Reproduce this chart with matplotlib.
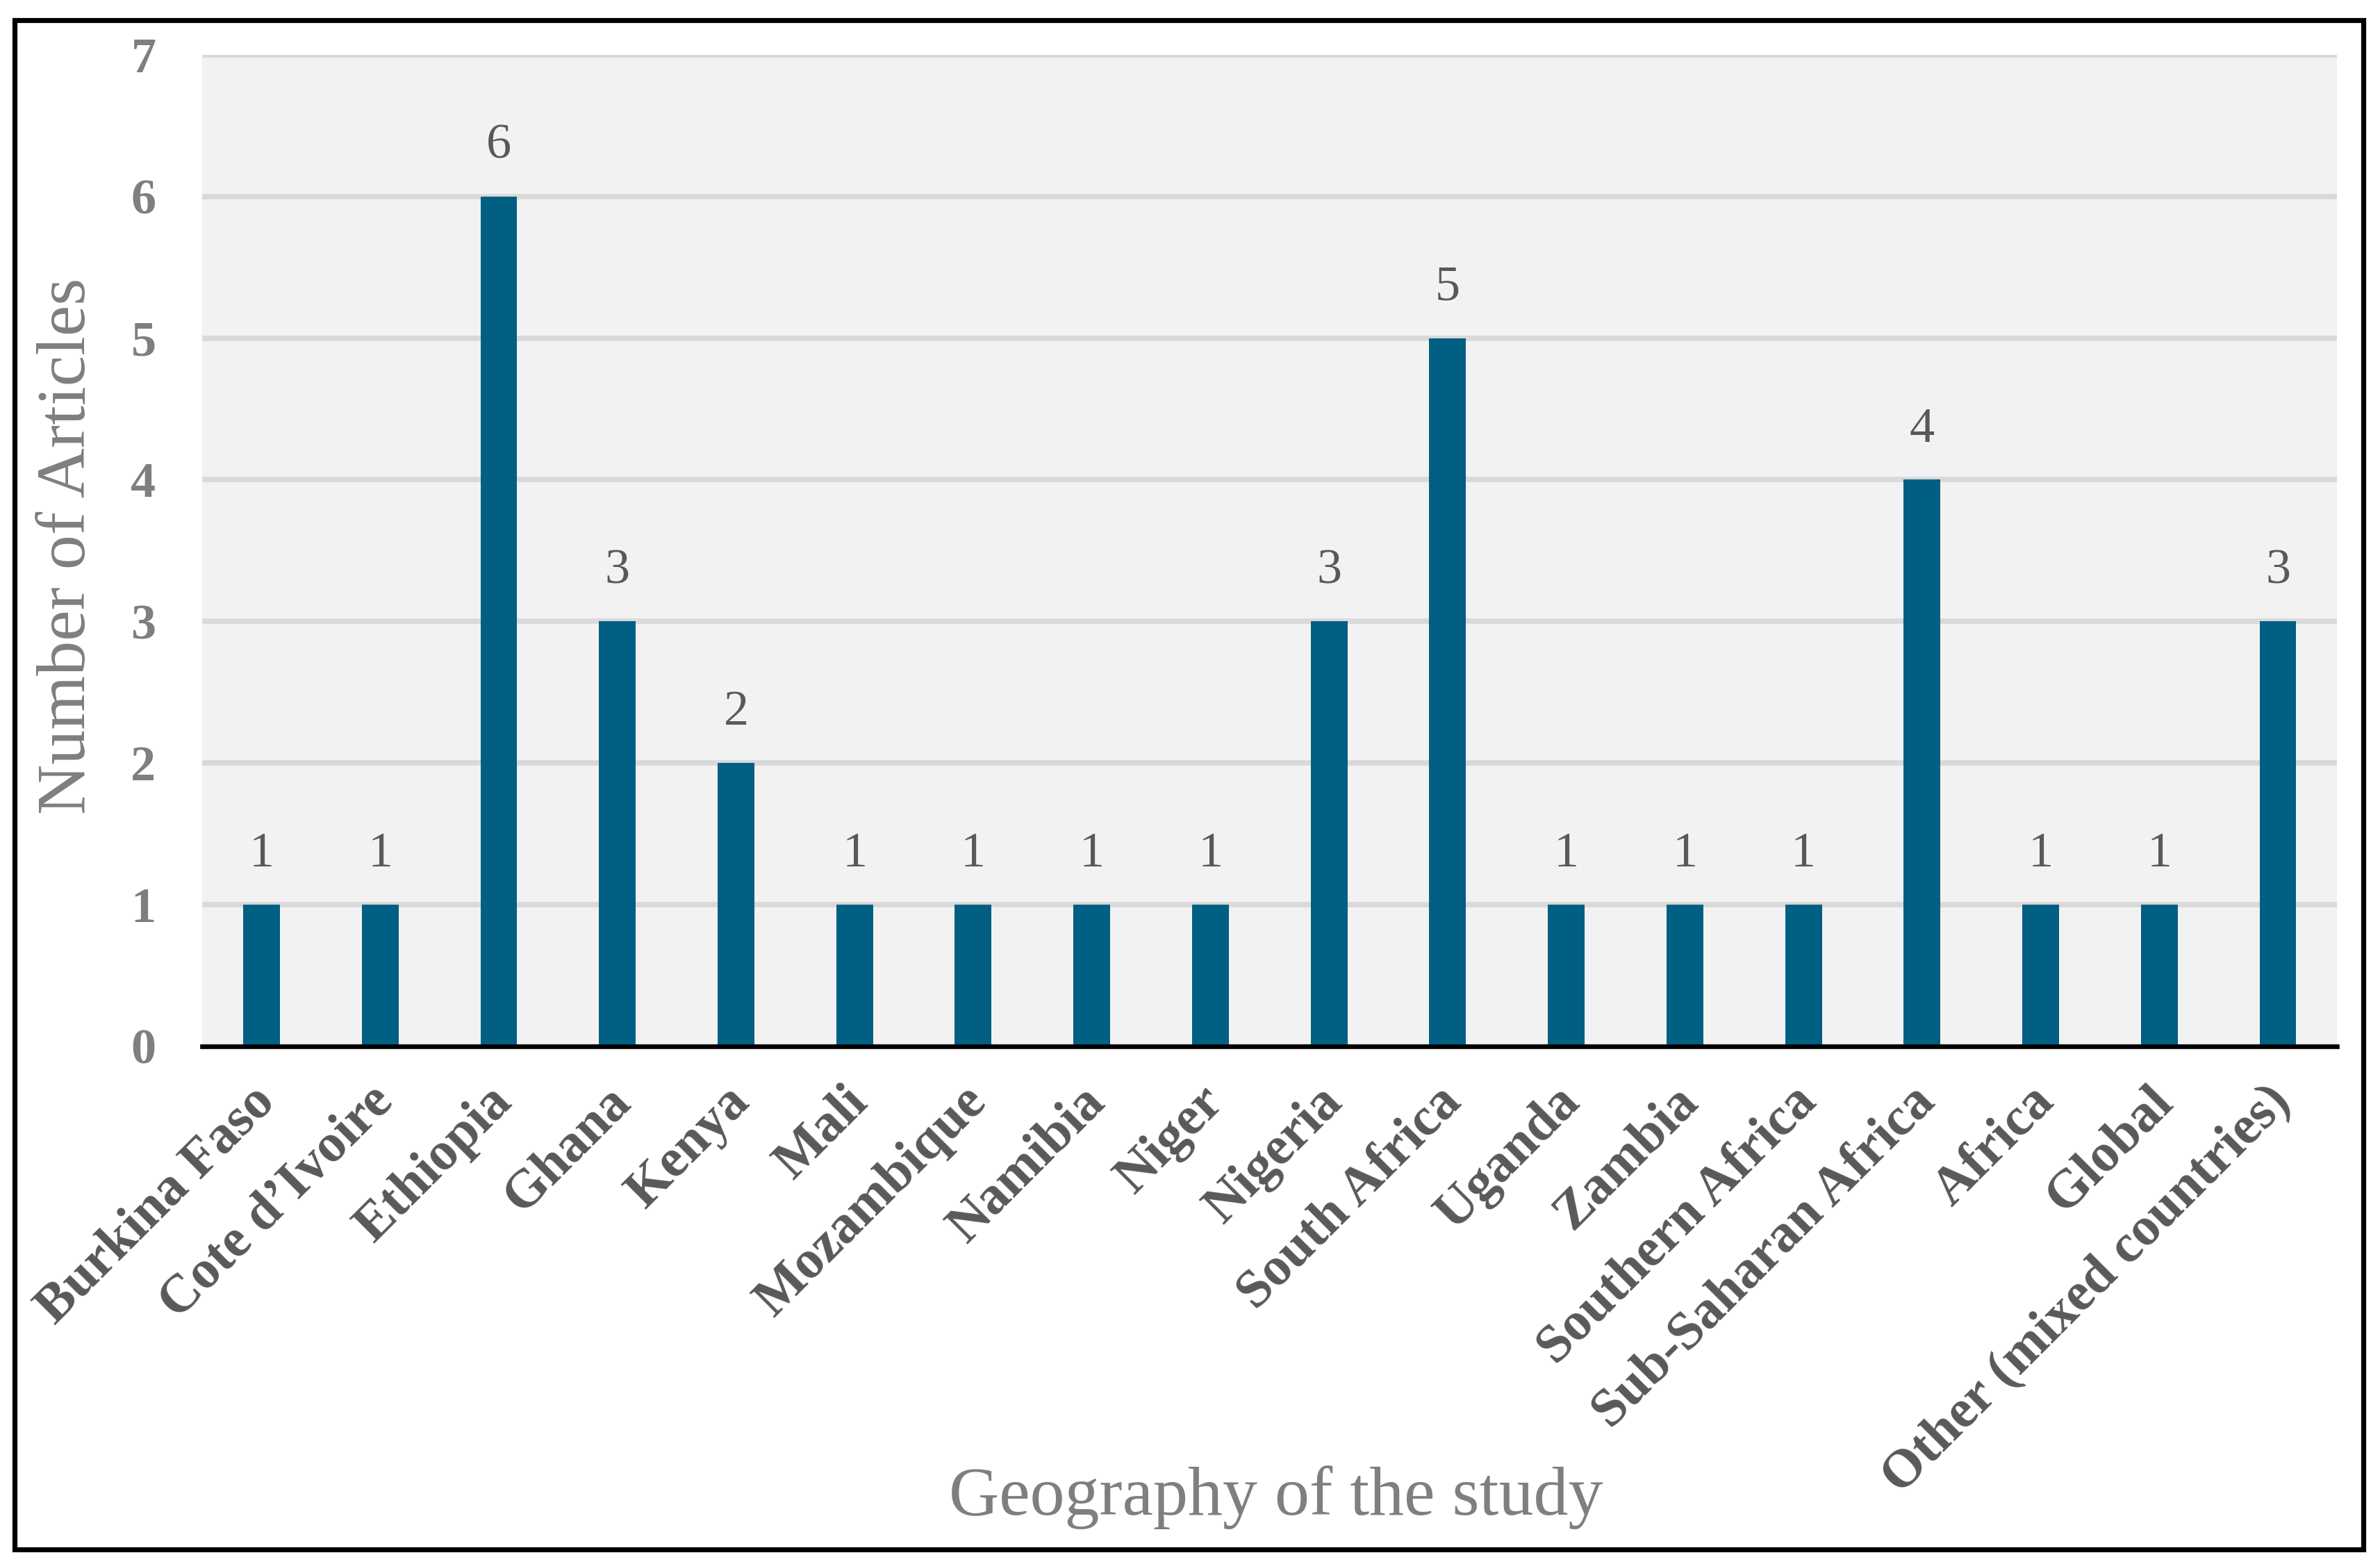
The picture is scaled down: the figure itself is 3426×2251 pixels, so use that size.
import matplotlib
matplotlib.use("Agg")
import matplotlib.pyplot as plt
import matplotlib.transforms as mtransforms
from matplotlib.patches import Rectangle

# data
regions = ["Burkina Faso", "Cote d\u2019Ivoire", "Ethiopia", "Ghana", "Kenya", "Mali",
           "Mozambique", "Namibia", "Niger", "Nigeria", "South Africa", "Uganda",
           "Zambia", "Southern Africa", "Sub-Saharan Africa", "Africa", "Global",
           "Other (mixed countries)"]
articles = [1, 1, 6, 3, 2, 1, 1, 1, 1, 3, 5, 1, 1, 1, 4, 1, 1, 3]
y_ticks = [0, 1, 2, 3, 4, 5, 6, 7]

plt.rcParams['font.family'] = ['Liberation Serif', 'DejaVu Serif']

fig = plt.figure(figsize=(17.13, 11.255), dpi=200)
ax = fig.add_axes([0.085, 0.331, 0.897, 0.634])
ax.set_facecolor('#F2F2F2')

x = range(len(regions))
bars = ax.bar(x, articles, width=0.31, color='#005F83', zorder=3)

ax.set_xlim(-0.5, len(regions) - 0.5)
ax.set_ylim(0, 7)
ax.set_yticks(y_ticks)
ax.yaxis.grid(True, color='#D9D9D9', linewidth=2.8, zorder=0)
ax.set_axisbelow(True)

for s in ['top', 'right', 'left']:
    ax.spines[s].set_visible(False)
ax.spines['bottom'].set_color('black')
ax.spines['bottom'].set_linewidth(2.4)
ax.spines['bottom'].set_zorder(4)

ax.tick_params(axis='both', length=0)
ax.tick_params(axis='y', pad=24, labelsize=26, labelcolor='#7F7F7F')
ax.tick_params(axis='x', pad=25, labelsize=28, labelcolor='#595959')
for lab in ax.get_yticklabels():
    lab.set_fontweight('bold')

ax.set_xticks(list(x))
ax.set_xticklabels(regions, fontweight='bold')
shift = mtransforms.ScaledTranslation(3 / 72, 0, fig.dpi_scale_trans)
for lab in ax.get_xticklabels():
    lab.set_rotation(45)
    lab.set_ha('right')
    lab.set_va('center')
    lab.set_rotation_mode('anchor')
    lab.set_transform(lab.get_transform() + shift)

# value labels over the bars
for rect, v in zip(bars, articles):
    ax.annotate(str(v), (rect.get_x() + rect.get_width() / 2, v),
                xytext=(0, 26), textcoords='offset points',
                ha='center', va='center', fontsize=26, color='#595959')

fig.text(0.0286, 0.651, 'Number of Articles', rotation=90, ha='center', va='center',
         fontsize=36, color='#7F7F7F')
fig.text(0.536, 0.0426, 'Geography of the study', ha='center', va='center',
         fontsize=36, color='#7F7F7F')

# black frame round the whole chart
fig.patches.append(Rectangle((0.0062, 0.0095), 0.9868, 0.9775, transform=fig.transFigure,
                             fill=False, edgecolor='black', linewidth=2.6))

fig.savefig('out.png', dpi=200)
